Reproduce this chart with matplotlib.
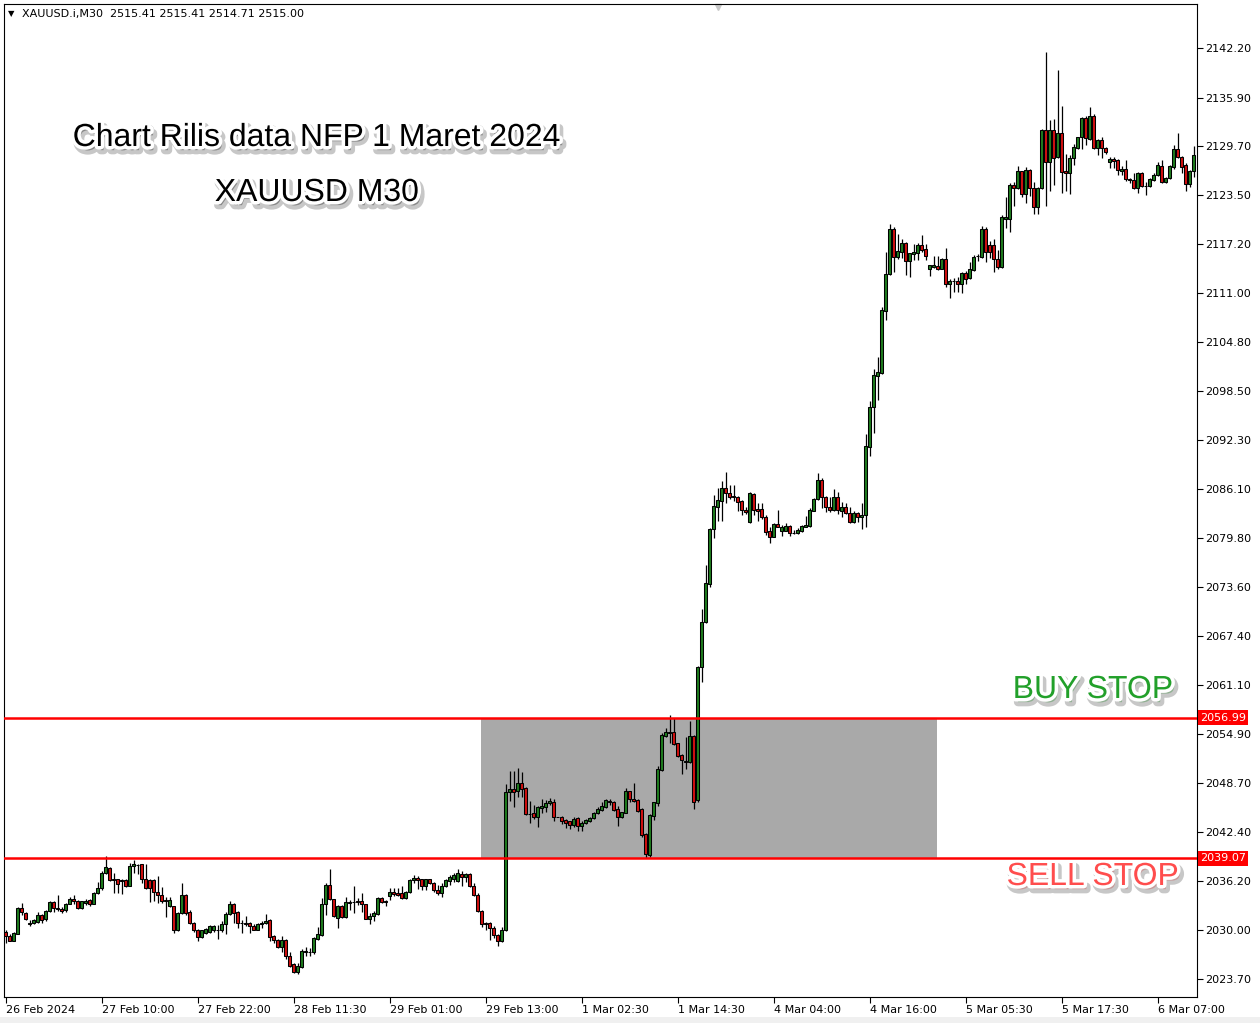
import matplotlib
matplotlib.use("Agg")
import matplotlib.pyplot as plt
import matplotlib.patheffects as pe
from matplotlib.patches import Rectangle
import numpy as np

# XAUUSD M30 candles, 26 Feb 22:00 .. 6 Mar 2024
opens = [
    2029.7, 2029.2, 2028.6, 2029.5, 2032.8, 2032.1, 2030.7, 2030.8, 2031.0, 2031.8,
    2031.3, 2032.4, 2033.5, 2032.8, 2032.6, 2032.5, 2033.3, 2033.9, 2033.6, 2032.7,
    2033.4, 2033.8, 2033.3, 2034.7, 2035.3, 2037.2, 2037.9, 2036.4, 2036.5, 2036.3,
    2036.3, 2035.5, 2038.1, 2038.2, 2038.3, 2036.4, 2036.3, 2036.3, 2034.8, 2034.4,
    2033.8, 2033.0, 2033.0, 2029.9, 2032.1, 2034.4, 2032.3, 2030.9, 2030.0, 2029.0,
    2029.6, 2029.7, 2029.9, 2029.9, 2029.9, 2030.7, 2032.0, 2033.3, 2032.3, 2030.8,
    2030.8, 2030.8, 2030.5, 2029.95, 2030.7, 2030.8, 2031.2, 2029.2, 2028.7, 2027.8,
    2028.7, 2026.6, 2025.6, 2024.6, 2025.2, 2027.15, 2027.2, 2027.1, 2028.8, 2029.3,
    2033.3, 2035.7, 2033.85, 2031.5, 2033.0, 2031.6, 2033.4, 2033.5, 2033.6, 2033.6,
    2033.2, 2031.35, 2031.7, 2032.0, 2034.0, 2033.55, 2034.3, 2034.8, 2034.7, 2034.7,
    2034.0, 2034.75, 2036.3, 2036.6, 2036.4, 2035.5, 2036.4, 2035.9, 2035.0, 2034.6,
    2035.55, 2036.2, 2036.5, 2036.2, 2037.1, 2036.65, 2037.1, 2035.55, 2034.4, 2032.4,
    2030.8, 2030.8, 2030.15, 2029.3, 2028.6, 2030.0, 2047.47, 2047.89, 2047.68, 2048.61,
    2047.98, 2044.75, 2044.79, 2044.29, 2045.43, 2045.64, 2046.15, 2046.2, 2044.33, 2044.29,
    2043.95, 2043.78, 2043.35, 2044.16, 2043.23, 2043.52, 2043.86, 2044.16, 2044.79, 2045.22,
    2045.64, 2046.24, 2046.24, 2045.35, 2044.29, 2044.88, 2047.64, 2046.62, 2046.49, 2045.35,
    2042.12, 2039.49, 2044.5, 2046.15, 2050.31, 2054.64, 2055.06, 2055.19, 2053.7, 2052.22,
    2051.37, 2051.37, 2054.64, 2046.49, 2063.46, 2069.1, 2073.98, 2080.94, 2083.82, 2084.58,
    2086.15, 2085.52, 2085.18, 2085.01, 2084.5, 2083.4, 2081.91, 2085.43, 2083.48, 2083.48,
    2082.46, 2080.72, 2080.0, 2081.61, 2080.77, 2080.77, 2081.36, 2080.51, 2080.51, 2080.77,
    2081.27, 2081.36, 2083.31, 2084.75, 2087.21, 2085.01, 2083.74, 2083.4, 2085.01, 2083.31,
    2083.74, 2083.06, 2081.91, 2083.06, 2082.46, 2082.76, 2091.46, 2096.46, 2100.49, 2100.79,
    2108.77, 2113.39, 2119.16, 2115.64, 2116.28, 2117.42, 2115.13, 2115.94, 2116.15, 2117.13,
    2116.57, 2114.11, 2114.37, 2114.45, 2114.11, 2115.3, 2112.12, 2112.5, 2112.54, 2112.12,
    2113.6, 2112.88, 2113.94, 2115.68, 2115.64, 2119.16, 2117.13, 2117.13, 2115.3, 2114.28,
    2120.48, 2120.48, 2124.76, 2124.34, 2126.55, 2123.58, 2126.67, 2124.34, 2121.92, 2124.34,
    2131.76, 2127.73, 2131.76, 2128.37, 2131.34, 2126.55, 2126.25, 2128.16, 2129.43, 2130.83,
    2133.25, 2130.58, 2133.55, 2129.43, 2130.49, 2129.52, 2127.65, 2128.12, 2127.95, 2126.59,
    2126.8, 2125.53, 2125.4, 2124.34, 2126.25, 2124.64, 2124.64, 2125.4, 2126.04, 2127.18,
    2125.19, 2125.61, 2127.1, 2129.35, 2128.29, 2127.31, 2124.85, 2126.55,
]
highs = [
    2029.9, 2029.5, 2029.7, 2032.9, 2033.4, 2032.2, 2031.2, 2031.4, 2032.3, 2032.0,
    2032.5, 2033.6, 2033.6, 2034.4, 2032.9, 2033.4, 2034.1, 2034.4, 2033.8, 2033.7,
    2033.9, 2033.9, 2034.8, 2036.0, 2037.4, 2039.4, 2038.0, 2037.2, 2036.5, 2036.5,
    2036.4, 2038.5, 2038.8, 2038.3, 2038.4, 2038.3, 2036.4, 2036.4, 2036.8, 2035.4,
    2034.2, 2034.1, 2033.0, 2032.2, 2035.9, 2034.5, 2032.5, 2031.0, 2030.1, 2030.0,
    2030.2, 2030.6, 2030.6, 2030.6, 2031.1, 2032.3, 2033.6, 2033.4, 2032.4, 2031.2,
    2031.7, 2031.0, 2030.7, 2030.8, 2031.1, 2032.0, 2031.3, 2029.3, 2028.8, 2029.2,
    2028.8, 2027.2, 2025.7, 2025.7, 2027.5, 2027.8, 2027.7, 2029.0, 2030.3, 2034.0,
    2035.9, 2037.7, 2033.9, 2033.1, 2033.1, 2034.2, 2033.8, 2035.5, 2034.0, 2034.6,
    2033.3, 2032.1, 2032.4, 2034.1, 2034.1, 2033.8, 2035.25, 2035.25, 2035.25, 2035.5,
    2034.95, 2036.4, 2036.95, 2036.8, 2036.5, 2036.5, 2036.5, 2036.0, 2035.7, 2035.9,
    2036.4, 2036.95, 2037.25, 2037.7, 2037.4, 2037.25, 2037.15, 2035.9, 2034.6, 2032.5,
    2031.0, 2031.0, 2030.4, 2029.5, 2030.3, 2048.53, 2050.18, 2050.18, 2050.52, 2050.1,
    2048.1, 2046.36, 2045.86, 2045.73, 2046.62, 2046.49, 2046.7, 2046.62, 2044.37, 2044.46,
    2044.03, 2043.86, 2044.29, 2044.29, 2043.86, 2044.12, 2044.37, 2045.01, 2045.64, 2046.28,
    2046.66, 2046.58, 2046.32, 2045.73, 2045.01, 2047.98, 2047.68, 2048.61, 2046.58, 2045.43,
    2042.25, 2044.67, 2046.28, 2050.82, 2055.06, 2055.66, 2057.31, 2056.89, 2053.79, 2052.3,
    2054.47, 2056.59, 2054.77, 2063.6, 2070.8, 2076.4, 2081.06, 2085.31, 2086.15, 2087.13,
    2088.19, 2086.58, 2086.58, 2085.18, 2084.67, 2083.74, 2085.73, 2085.6, 2084.24, 2084.24,
    2082.76, 2081.27, 2081.78, 2083.4, 2081.44, 2081.78, 2081.44, 2080.85, 2081.06, 2081.49,
    2082.63, 2083.61, 2084.88, 2088.06, 2087.43, 2085.18, 2085.09, 2086.03, 2085.73, 2084.46,
    2084.33, 2083.82, 2083.31, 2083.18, 2084.24, 2093.07, 2097.31, 2101.3, 2102.91, 2109.19,
    2116.28, 2119.8, 2119.46, 2118.53, 2117.85, 2117.51, 2116.15, 2117.25, 2117.34, 2118.4,
    2117.25, 2114.62, 2115.73, 2115.73, 2115.43, 2116.7, 2112.76, 2112.97, 2113.09, 2113.73,
    2113.82, 2115.0, 2115.85, 2115.94, 2119.54, 2119.46, 2117.63, 2117.85, 2116.49, 2120.94,
    2123.28, 2125.06, 2125.19, 2127.18, 2126.59, 2127.1, 2126.8, 2125.19, 2124.55, 2131.85,
    2141.74, 2133.04, 2133.16, 2139.4, 2134.82, 2128.67, 2128.58, 2129.98, 2130.92, 2133.38,
    2133.55, 2134.73, 2133.8, 2130.58, 2130.83, 2129.64, 2128.29, 2128.37, 2128.03, 2127.18,
    2127.95, 2125.7, 2126.33, 2126.42, 2126.46, 2125.19, 2125.61, 2126.33, 2127.73, 2127.95,
    2125.74, 2127.31, 2129.86, 2131.34, 2128.46, 2127.52, 2126.67, 2129.73,
]
lows = [
    2028.3, 2028.5, 2028.5, 2029.4, 2031.9, 2031.2, 2030.4, 2030.7, 2030.9, 2030.9,
    2031.1, 2032.2, 2032.3, 2032.4, 2032.1, 2032.3, 2033.2, 2033.3, 2032.6, 2032.6,
    2033.1, 2033.0, 2033.3, 2034.5, 2035.1, 2037.1, 2036.2, 2034.6, 2034.6, 2034.5,
    2035.4, 2035.5, 2037.2, 2037.1, 2035.9, 2035.2, 2033.5, 2033.6, 2033.4, 2033.4,
    2031.6, 2032.9, 2029.6, 2029.8, 2032.0, 2031.9, 2030.7, 2029.7, 2028.6, 2028.9,
    2029.5, 2029.6, 2029.7, 2028.8, 2029.7, 2029.5, 2031.9, 2030.9, 2030.2, 2029.6,
    2030.5, 2029.6, 2029.9, 2029.9, 2030.2, 2030.7, 2028.5, 2028.3, 2027.6, 2027.2,
    2026.3, 2025.3, 2024.5, 2024.3, 2025.1, 2026.6, 2026.6, 2026.9, 2028.7, 2029.2,
    2031.9, 2033.8, 2031.6, 2030.2, 2031.5, 2031.5, 2032.5, 2032.1, 2033.1, 2032.2,
    2031.3, 2030.7, 2031.1, 2031.9, 2033.4, 2033.0, 2033.8, 2034.3, 2034.3, 2033.85,
    2033.85, 2034.6, 2035.9, 2035.2, 2035.1, 2035.0, 2035.8, 2034.8, 2034.4, 2034.2,
    2035.45, 2035.7, 2036.1, 2036.1, 2035.55, 2036.1, 2035.45, 2034.3, 2032.3, 2030.3,
    2030.0, 2028.7, 2028.9, 2027.9, 2028.4, 2029.8, 2046.36, 2045.64, 2046.92, 2046.83,
    2044.58, 2043.52, 2044.03, 2043.1, 2044.79, 2044.96, 2045.86, 2043.86, 2044.29, 2043.44,
    2042.97, 2042.8, 2043.1, 2042.59, 2042.59, 2043.44, 2043.65, 2044.03, 2044.71, 2045.13,
    2045.52, 2045.81, 2045.13, 2043.18, 2044.2, 2044.79, 2046.28, 2046.28, 2045.01, 2041.82,
    2039.07, 2039.28, 2043.95, 2045.73, 2050.23, 2054.55, 2053.7, 2053.53, 2052.01, 2049.8,
    2050.44, 2051.24, 2045.39, 2046.3, 2061.55, 2068.97, 2073.64, 2079.79, 2082.04, 2082.04,
    2084.24, 2084.75, 2084.58, 2083.31, 2082.76, 2082.89, 2081.7, 2082.76, 2082.04, 2082.21,
    2080.21, 2079.24, 2079.92, 2081.19, 2080.09, 2080.68, 2080.09, 2080.34, 2080.34, 2080.64,
    2081.19, 2081.27, 2083.23, 2084.67, 2083.61, 2083.18, 2083.18, 2083.31, 2082.89, 2082.55,
    2082.89, 2081.7, 2081.7, 2081.91, 2080.94, 2081.3, 2090.27, 2093.24, 2097.4, 2100.71,
    2107.58, 2113.31, 2113.73, 2115.39, 2115.43, 2113.31, 2113.09, 2115.22, 2115.22, 2116.28,
    2115.22, 2113.22, 2114.16, 2113.94, 2114.03, 2111.82, 2110.34, 2111.19, 2111.19, 2111.06,
    2112.16, 2112.76, 2113.82, 2115.13, 2115.51, 2115.0, 2115.43, 2113.73, 2114.03, 2114.16,
    2119.25, 2118.82, 2122.09, 2124.21, 2123.19, 2122.43, 2123.36, 2121.03, 2121.03, 2124.21,
    2122.13, 2124.04, 2124.76, 2128.16, 2123.7, 2124.04, 2123.58, 2127.31, 2129.3, 2129.35,
    2129.86, 2130.49, 2129.3, 2128.58, 2128.16, 2128.71, 2126.89, 2126.97, 2126.04, 2126.04,
    2125.32, 2125.06, 2124.21, 2123.7, 2124.47, 2123.49, 2124.55, 2125.32, 2125.95, 2125.06,
    2125.06, 2125.49, 2126.8, 2128.16, 2126.25, 2124.04, 2124.55, 2125.74,
]
closes = [
    2029.2, 2028.6, 2029.6, 2032.8, 2032.2, 2031.3, 2030.9, 2031.2, 2031.8, 2031.2,
    2032.4, 2033.5, 2032.8, 2032.6, 2032.4, 2033.3, 2033.9, 2033.6, 2032.7, 2033.6,
    2033.7, 2033.3, 2034.7, 2035.3, 2037.2, 2038.0, 2036.3, 2036.3, 2035.8, 2036.2,
    2035.5, 2038.1, 2038.3, 2038.2, 2036.4, 2035.3, 2035.3, 2034.8, 2034.4, 2033.6,
    2033.6, 2033.8, 2029.9, 2032.1, 2034.4, 2032.1, 2030.8, 2030.0, 2029.0, 2029.9,
    2030.1, 2030.5, 2030.5, 2029.95, 2030.7, 2032.0, 2033.3, 2032.1, 2030.8, 2030.8,
    2030.75, 2030.5, 2029.95, 2030.7, 2030.9, 2031.1, 2029.1, 2028.7, 2027.8, 2028.7,
    2026.6, 2025.4, 2024.6, 2025.4, 2027.3, 2027.3, 2027.2, 2028.9, 2029.4, 2033.3,
    2035.7, 2033.85, 2031.7, 2033.0, 2031.6, 2033.5, 2033.55, 2033.5, 2033.5, 2033.2,
    2031.35, 2031.7, 2032.1, 2034.0, 2033.55, 2033.7, 2034.8, 2034.5, 2034.4, 2034.0,
    2034.8, 2036.3, 2036.6, 2036.3, 2035.5, 2036.4, 2035.9, 2035.0, 2034.6, 2035.55,
    2036.3, 2036.65, 2036.95, 2037.15, 2036.75, 2037.1, 2035.55, 2034.4, 2032.4, 2030.7,
    2030.7, 2030.15, 2029.3, 2028.6, 2030.0, 2047.47, 2047.89, 2047.55, 2048.61, 2047.85,
    2044.67, 2044.75, 2044.29, 2045.56, 2045.73, 2046.15, 2046.41, 2044.29, 2044.33, 2043.86,
    2043.52, 2043.35, 2044.12, 2043.23, 2043.61, 2043.95, 2044.24, 2044.88, 2045.39, 2045.73,
    2046.49, 2046.36, 2045.22, 2044.29, 2044.92, 2047.64, 2046.58, 2046.41, 2045.13, 2042.04,
    2039.62, 2044.58, 2046.2, 2050.4, 2054.77, 2055.1, 2055.19, 2053.62, 2052.13, 2051.58,
    2051.5, 2054.64, 2046.28, 2063.46, 2069.1, 2074.06, 2080.94, 2083.91, 2084.67, 2086.15,
    2085.52, 2085.09, 2085.01, 2084.46, 2083.4, 2083.18, 2085.52, 2083.4, 2083.31, 2082.46,
    2080.64, 2080.0, 2081.61, 2081.27, 2081.27, 2081.36, 2080.43, 2080.51, 2080.85, 2081.36,
    2081.49, 2083.4, 2084.75, 2087.21, 2085.01, 2083.74, 2083.4, 2085.01, 2083.4, 2083.74,
    2082.97, 2081.91, 2083.06, 2082.46, 2082.76, 2091.54, 2096.46, 2100.58, 2100.92, 2108.85,
    2113.39, 2119.16, 2115.64, 2116.36, 2117.42, 2115.13, 2116.06, 2116.28, 2117.13, 2116.49,
    2115.77, 2114.54, 2114.58, 2114.07, 2115.3, 2112.12, 2112.54, 2112.5, 2112.12, 2113.52,
    2112.76, 2114.03, 2115.64, 2115.68, 2119.16, 2116.28, 2116.28, 2115.3, 2114.28, 2120.65,
    2120.65, 2124.76, 2124.34, 2126.55, 2123.58, 2126.67, 2124.34, 2121.92, 2124.42, 2131.76,
    2127.73, 2131.76, 2128.16, 2131.34, 2126.46, 2126.25, 2128.16, 2129.64, 2130.83, 2133.25,
    2130.7, 2133.55, 2129.43, 2130.49, 2129.43, 2128.92, 2128.12, 2127.86, 2126.67, 2126.8,
    2125.49, 2125.4, 2124.34, 2126.25, 2124.64, 2124.64, 2125.49, 2126.04, 2127.31, 2125.19,
    2125.61, 2127.18, 2129.35, 2128.29, 2127.1, 2124.85, 2126.55, 2128.58,
]

date_labels = ["26 Feb 2024", "27 Feb 10:00", "27 Feb 22:00", "28 Feb 11:30",
               "29 Feb 01:00", "29 Feb 13:00", "1 Mar 02:30", "1 Mar 14:30",
               "4 Mar 04:00", "4 Mar 16:00", "5 Mar 05:30", "5 Mar 17:30",
               "6 Mar 07:00"]
price_ticks = [2023.70, 2030.00, 2036.20, 2042.40, 2048.70, 2054.90, 2061.10,
               2067.40, 2073.60, 2079.80, 2086.10, 2092.30, 2098.50, 2104.80,
               2111.00, 2117.20, 2123.50, 2129.70, 2135.90, 2142.20]

buy_stop = 2056.99
sell_stop = 2039.07
box_start, box_end = 118.875, 232.875   # bar positions of the range box

o = np.array(opens)
h = np.array(highs)
l = np.array(lows)
c = np.array(closes)
x = np.arange(len(o))

fig = plt.figure(figsize=(12.6, 10.23), dpi=100)
ax = fig.add_axes([4 / 1260, 26 / 1023, 1193 / 1260, 993 / 1023])

ax.set_xlim(-0.375, 297.875)
ax.set_ylim(2021.42, 2147.8)

# range box between the two pending orders
ax.add_patch(Rectangle((box_start, sell_stop), box_end - box_start, buy_stop - sell_stop,
                       facecolor="#a9a9a9", edgecolor="none", zorder=0))

# candles
up = c >= o
body_col = np.where(up, "#1e7b1e", "#d01010")
ax.vlines(x, l, h, color="black", linewidth=0.9, zorder=2)
ax.bar(x, np.abs(c - o), bottom=np.minimum(o, c), width=0.55, color=body_col,
       edgecolor="black", linewidth=0.75, zorder=3)

# pending order lines
for lvl in (buy_stop, sell_stop):
    ax.axhline(lvl, color="#ff0000", linewidth=1.8, zorder=4)
    ax.text(1.0025, lvl, f"{lvl:.2f}", transform=ax.get_yaxis_transform(),
            ha="left", va="center", fontsize=8, color="white", zorder=5,
            bbox=dict(boxstyle="square,pad=0.22", fc="#ff0000", ec="none"), clip_on=False)

# axes styling
ax.yaxis.tick_right()
ax.set_yticks(price_ticks)
ax.set_yticklabels([f"{p:.2f}" for p in price_ticks], fontsize=8)
ax.set_xticks(np.arange(0, 24 * len(date_labels), 24))
ax.set_xticklabels(date_labels, fontsize=8, ha="left")
ax.tick_params(axis="both", direction="out", length=4, width=0.8, colors="black", pad=2)
for s in ax.spines.values():
    s.set_color("black")
    s.set_linewidth(0.8)

# header
fig.text(8 / 1260, 1 - 14 / 1023, "\u25bc", fontsize=6, va="center", ha="left")
fig.text(22 / 1260, 1 - 14 / 1023, "XAUUSD.i,M30  2515.41 2515.41 2514.71 2515.00",
         fontsize=8, va="center", ha="left")
ax.plot([(718 - 4) / 1193], [0.997], marker="v", color="#c8c8c8", markersize=5,
        transform=ax.transAxes, clip_on=False)

# annotations
fx = [pe.Stroke(linewidth=6, foreground="#9a9a9a", alpha=0.55, offset=(2, -3)),
      pe.Stroke(linewidth=5, foreground="white"), pe.Normal()]
ax.text(313 / 1193, 1 - 134 / 993, "Chart Rilis data NFP 1 Maret 2024", transform=ax.transAxes,
        ha="center", va="center", fontsize=23, family="Liberation Sans", color="black",
        path_effects=fx)
ax.text(313 / 1193, 1 - 189 / 993, "XAUUSD M30", transform=ax.transAxes,
        ha="center", va="center", fontsize=23, family="Liberation Sans", color="black",
        path_effects=fx)
ax.text(1089 / 1193, 1 - 686 / 993, "BUY STOP", transform=ax.transAxes,
        ha="center", va="center", fontsize=23, family="Liberation Sans", color="#22a02a",
        path_effects=fx)
ax.text(1089 / 1193, 1 - 873 / 993, "SELL STOP", transform=ax.transAxes,
        ha="center", va="center", fontsize=23, family="Liberation Sans", color="#ff4d4d",
        path_effects=fx)

fig.patches.append(Rectangle((0, 0), 1, 6 / 1023, transform=fig.transFigure,
                             facecolor="#f0f0f0", edgecolor="none"))

fig.savefig("out.png", dpi=100)
